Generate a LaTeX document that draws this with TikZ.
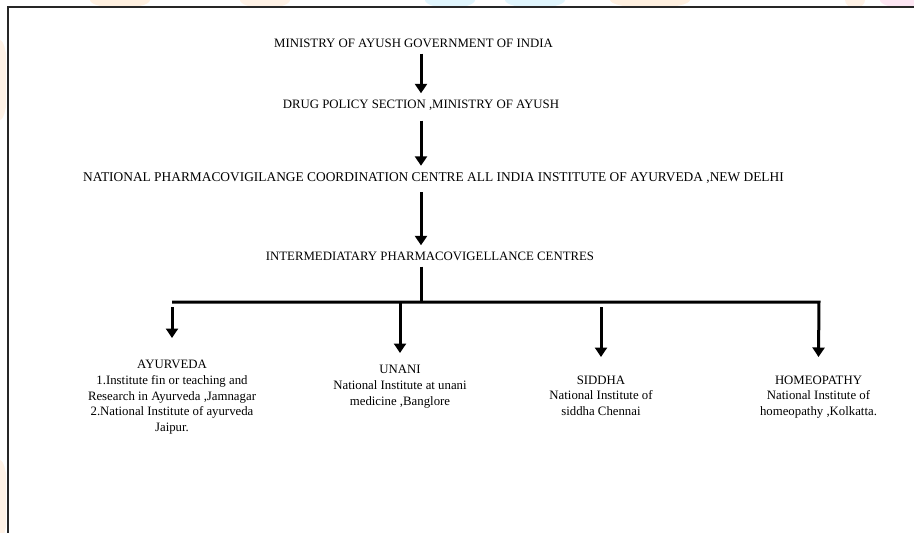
\documentclass[tikz,border=0pt]{standalone}
\usepackage{fontspec}
\setmainfont{Liberation Serif}
\usetikzlibrary{arrows.meta}
\begin{document}
\begin{tikzpicture}[x=1pt,y=-1pt,
  every node/.style={font=\fontsize{12.8}{15.7}\selectfont},
  title/.style={text height=9pt, text depth=0pt, inner xsep=0pt, inner ysep=6pt, anchor=base},
  branch/.style={align=center, anchor=north, inner sep=0pt},
  flow/.style={line width=3pt, -{Triangle[width=12pt,length=9.5pt]}},
  bar/.style={line width=3pt},
  frame/.style={line width=2pt, draw=black!85},
  tint/.style={opacity=0.2}]
\useasboundingbox (0,0) rectangle (914,533);

% faint coloured tints in the outer margin
\begin{scope}
  \clip (0,0) rectangle (914,6);
  \fill[tint, orange!60]   (120,0) ellipse (30 and 8);
  \fill[tint, orange!50]   (265,0) ellipse (25 and 8);
  \fill[tint, cyan!60]     (450,0) ellipse (25 and 8);
  \fill[tint, cyan!60]     (535,0) ellipse (30 and 8);
  \fill[tint, orange!60]   (650,0) ellipse (40 and 8);
  \fill[tint, orange!50]   (855,0) ellipse (10 and 8);
  \fill[tint, magenta!50]  (905,0) ellipse (25 and 8);
\end{scope}
\begin{scope}
  \clip (0,0) rectangle (6,533);
  \fill[tint, orange!50] (0,80) ellipse (8 and 40);
  \fill[tint, orange!50] (0,500) ellipse (8 and 40);
\end{scope}

% page frame
\draw[frame] (916,7) -- (8,7) -- (8,535);

% hierarchy titles
\coordinate (spine) at (421,0);
\node[title] (t1) at (413.5,47.5) {MINISTRY OF AYUSH GOVERNMENT OF INDIA};
\node[title] (t2) at (421,108.5) {DRUG POLICY SECTION ,MINISTRY OF AYUSH};
\node[title, font=\fontsize{13.4}{15.7}\selectfont] (t3) at (433.5,181) {NATIONAL PHARMACOVIGILANGE COORDINATION CENTRE ALL INDIA INSTITUTE OF AYURVEDA ,NEW DELHI};
\node[title] (t4) at (430,260.5) {INTERMEDIATARY PHARMACOVIGELLANCE CENTRES};

\draw[flow] (t1.south -| spine) -- (t2.north -| spine);
\draw[flow, shorten <=6pt] (t2.south -| spine) -- (t3.north -| spine);
\draw[flow, shorten <=5pt] (t3.south -| spine) -- (t4.north -| spine);

% branch bar
\coordinate (barL) at (172,302);
\coordinate (barR) at (819,302);
\draw[bar] (t4.south -| spine) -- (spine |- barL);

% branches
\node[branch] (ay) at (172,360) {AYURVEDA\\1.Institute fin or teaching and\\Research in Ayurveda ,Jamnagar\\2.National Institute of ayurveda\\Jaipur.};
\node[branch] (un) at (400,365) {UNANI\\National Institute at unani\\medicine ,Banglore};
\node[branch] (si) at (601,375.5) {SIDDHA\\National Institute of\\siddha Chennai};
\node[branch] (ho) at (818.5,375.5) {HOMEOPATHY\\National Institute of\\homeopathy ,Kolkatta.};

\draw[flow] (barL) -- (barR) -- ([yshift=18.5pt]ho.north);
\draw[flow, shorten <=5pt, shorten >=22pt] (ay.north |- barL) -- (ay.north);
\draw[flow, shorten >=12pt] (un.north |- barL) -- (un.north);
\draw[flow, shorten <=5pt, shorten >=18.5pt] (si.north |- barL) -- (si.north);
\end{tikzpicture}
\end{document}
